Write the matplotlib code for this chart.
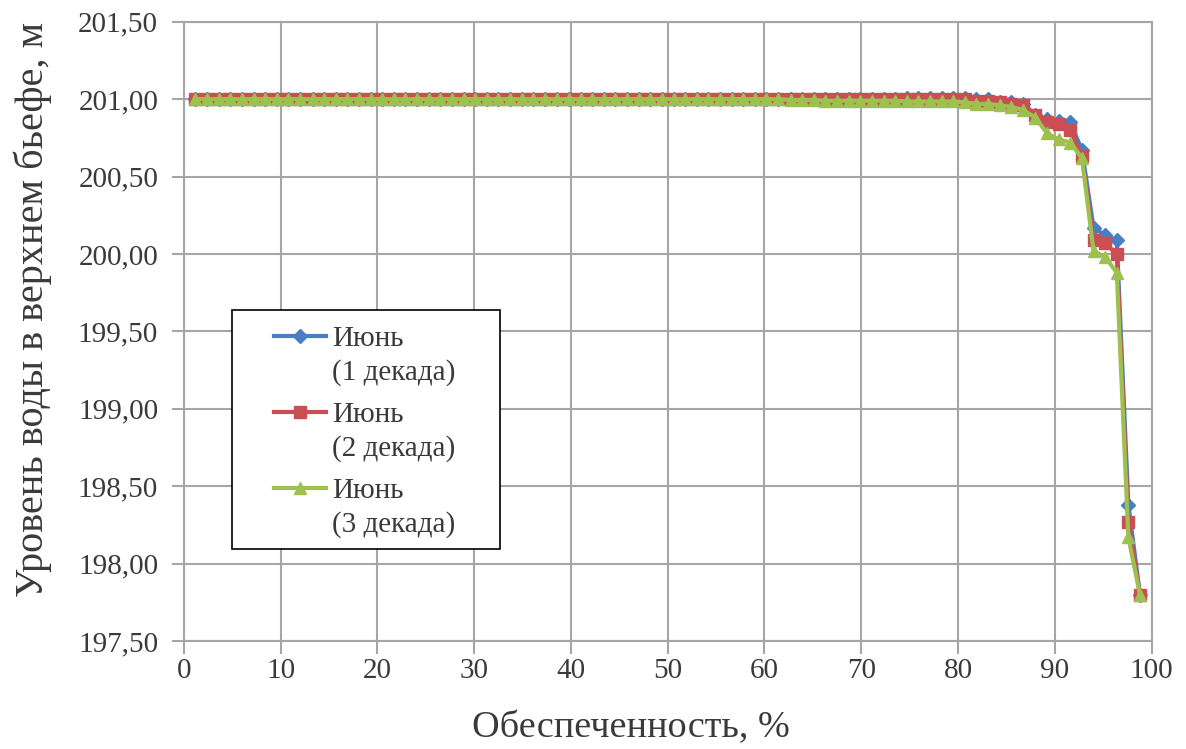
import matplotlib.pyplot as plt
import numpy as np
from matplotlib.ticker import FuncFormatter
from matplotlib.legend_handler import HandlerLine2D
from matplotlib.patches import Rectangle

plt.rcParams['font.family'] = ['Liberation Serif', 'DejaVu Serif']

# обеспеченность, % (82 значения)
obesp = [1.2, 2.4, 3.6, 4.8, 6.0, 7.2, 8.4, 9.6, 10.8, 12.0,
         13.3, 14.5, 15.7, 16.9, 18.1, 19.3, 20.5, 21.7, 22.9, 24.1,
         25.3, 26.5, 27.7, 28.9, 30.1, 31.3, 32.5, 33.7, 34.9, 36.1,
         37.3, 38.6, 39.8, 41.0, 42.2, 43.4, 44.6, 45.8, 47.0, 48.2,
         49.4, 50.6, 51.8, 53.0, 54.2, 55.4, 56.6, 57.8, 59.0, 60.2,
         61.4, 62.7, 63.9, 65.1, 66.3, 67.5, 68.7, 69.9, 71.1, 72.3,
         73.5, 74.7, 75.9, 77.1, 78.3, 79.5, 80.7, 81.9, 83.1, 84.3,
         85.5, 86.7, 88.0, 89.2, 90.4, 91.6, 92.8, 94.0, 95.2, 96.4,
         97.6, 98.8]

june_1 = [201.00, 201.00, 201.00, 201.00, 201.00, 201.00, 201.00, 201.00, 201.00, 201.00,
          201.00, 201.00, 201.00, 201.00, 201.00, 201.00, 201.00, 201.00, 201.00, 201.00,
          201.00, 201.00, 201.00, 201.00, 201.00, 201.00, 201.00, 201.00, 201.00, 201.00,
          201.00, 201.00, 201.00, 201.00, 201.00, 201.00, 201.00, 201.00, 201.00, 201.00,
          201.00, 201.00, 201.00, 201.00, 201.00, 201.00, 201.00, 201.00, 201.00, 201.00,
          201.00, 201.00, 201.00, 201.00, 201.00, 201.00, 201.00, 201.00, 201.00, 201.00,
          201.00, 201.01, 201.01, 201.01, 201.01, 201.01, 201.01, 201.00, 201.00, 200.98,
          200.98, 200.97, 200.90, 200.87, 200.86, 200.85, 200.67, 200.17, 200.12, 200.09,
          198.38, 197.80]

june_2 = [201.00, 201.00, 201.00, 201.00, 201.00, 201.00, 201.00, 201.00, 201.00, 201.00,
          201.00, 201.00, 201.00, 201.00, 201.00, 201.00, 201.00, 201.00, 201.00, 201.00,
          201.00, 201.00, 201.00, 201.00, 201.00, 201.00, 201.00, 201.00, 201.00, 201.00,
          201.00, 201.00, 201.00, 201.00, 201.00, 201.00, 201.00, 201.00, 201.00, 201.00,
          201.00, 201.00, 201.00, 201.00, 201.00, 201.00, 201.00, 201.00, 201.00, 201.00,
          201.00, 201.00, 201.00, 201.00, 201.00, 201.00, 201.00, 201.00, 201.00, 201.00,
          201.00, 201.00, 201.00, 201.00, 201.00, 201.00, 201.00, 200.99, 200.99, 200.98,
          200.97, 200.96, 200.90, 200.85, 200.84, 200.80, 200.63, 200.09, 200.07, 200.00,
          198.27, 197.80]

june_3 = [201.00, 201.00, 201.00, 201.00, 201.00, 201.00, 201.00, 201.00, 201.00, 201.00,
          201.00, 201.00, 201.00, 201.00, 201.00, 201.00, 201.00, 201.00, 201.00, 201.00,
          201.00, 201.00, 201.00, 201.00, 201.00, 201.00, 201.00, 201.00, 201.00, 201.00,
          201.00, 201.00, 201.00, 201.00, 201.00, 201.00, 201.00, 201.00, 201.00, 201.00,
          201.00, 201.00, 201.00, 201.00, 201.00, 201.00, 201.00, 201.00, 201.00, 201.00,
          201.00, 200.995, 200.995, 200.995, 200.99, 200.99, 200.99, 200.99, 200.99, 200.99,
          200.99, 200.985, 200.985, 200.985, 200.985, 200.985, 200.98, 200.97, 200.97, 200.96,
          200.95, 200.93, 200.88, 200.78, 200.74, 200.72, 200.62, 200.02, 199.98, 199.88,
          198.17, 197.80]

labels = ['Июнь\n(1 декада)', 'Июнь\n(2 декада)', 'Июнь\n(3 декада)']
colors = ['#4A7EC3', '#CC4E55', '#9DC04F']
markers = ['D', 's', '^']
msizes = [7, 8, 9]

LINESP = 1.36


# маркер легенды напротив первой строки подписи
class FirstLineHandler(HandlerLine2D):
    def create_artists(self, legend, orig_handle, xdescent, ydescent, width, height, fontsize, trans):
        arts = super().create_artists(legend, orig_handle, xdescent, ydescent,
                                      width, height, fontsize, trans)
        for a in arts:
            a.set_ydata(np.asarray(a.get_ydata()) + LINESP / 2 * fontsize)
        return arts


fig = plt.figure(figsize=(11.86, 7.49), dpi=100)
ax = fig.add_axes([0.155, 0.144, 0.816, 0.827])

lines = []
for ser, lab, c, m, ms in zip([june_1, june_2, june_3], labels, colors, markers, msizes):
    ln, = ax.plot(obesp, ser, color=c, lw=3, marker=m, markersize=ms,
                  markeredgecolor=c, label=lab)
    lines.append(ln)

ax.set_xlim(0, 100)
ax.set_ylim(197.5, 201.5)
ax.set_xticks(range(0, 101, 10))
ax.set_yticks([197.5, 198.0, 198.5, 199.0, 199.5, 200.0, 200.5, 201.0, 201.5])
ax.yaxis.set_major_formatter(FuncFormatter(lambda v, p: ('%.2f' % v).replace('.', ',')))

ax.grid(True, color='#a6a6a6', lw=1.5)
ax.set_axisbelow(True)
for s in ax.spines.values():
    s.set_color('#a6a6a6')
    s.set_linewidth(1.5)
ax.tick_params(axis='both', colors='#a6a6a6', length=9, width=1.5,
               labelsize=21, labelcolor='#3a3a3a', pad=9.5)
ax.tick_params(axis='x', pad=3)

ax.set_xlabel('Обеспеченность, %', fontsize=27.5, color='#3a3a3a')
ax.set_ylabel('Уровень воды в верхнем бьефе, м', fontsize=29, color='#3a3a3a')
ax.xaxis.set_label_coords(0.462, -0.113)
ax.yaxis.set_label_coords(-0.136, 0.536)

# рамка легенды
ax.add_patch(Rectangle((0.0496, 0.1486), 0.277, 0.386, transform=ax.transAxes,
                       facecolor='white', edgecolor='black', lw=1.2, zorder=4))

leg = ax.legend(handler_map={ln: FirstLineHandler() for ln in lines},
                loc='upper left', bbox_to_anchor=(0.093, 0.509), fontsize=21,
                frameon=False, handlelength=1.8, labelspacing=0.54, borderpad=0,
                handletextpad=0.2, borderaxespad=0)
leg.set_zorder(5)
for t in leg.get_texts():
    t.set_color('#3a3a3a')
    t.set_linespacing(LINESP)

plt.savefig('out.png', dpi=100, facecolor='white')
